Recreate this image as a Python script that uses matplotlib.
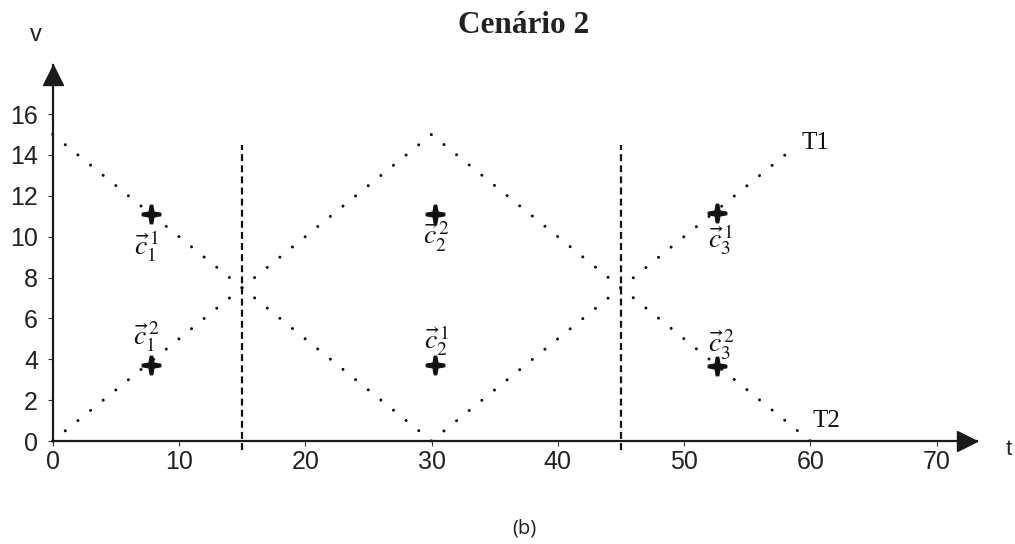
import matplotlib
matplotlib.use("Agg")
import matplotlib.pyplot as plt
from matplotlib.path import Path
from matplotlib.transforms import ScaledTranslation

plt.rcParams["mathtext.fontset"] = "stix"
plt.rcParams["lines.scale_dashes"] = False

# Trajectories: vertex times and values
t1_t = [0, 30, 58]
t1_v = [15, 0, 14]
t2_t = [0, 30, 60]
t2_v = [0, 15, 0]

# Phase boundaries
boundaries = [15, 45]
boundary_bottom = -0.45
boundary_top = 14.5

# Cluster centres
centre_t = [7.8, 7.8, 30.3, 30.3, 52.6, 52.6]
centre_v = [11.1, 3.7, 11.1, 3.7, 11.15, 3.65]
centre_labels = [r"$\vec{c}_1^{\,1}$", r"$\vec{c}_1^{\,2}$",
                 r"$\vec{c}_2^{\,2}$", r"$\vec{c}_2^{\,1}$",
                 r"$\vec{c}_3^{\,1}$", r"$\vec{c}_3^{\,2}$"]
label_t = [7.4, 7.4, 30.4, 30.4, 52.9, 52.9]
label_v = [9.55, 5.1, 10.0, 4.9, 9.85, 4.7]

x_ticks = [0, 10, 20, 30, 40, 50, 60, 70]
y_ticks = [0, 2, 4, 6, 8, 10, 12, 14, 16]

# Bold plus with tapered arms used for the centres
_a, _b = 0.14, 0.27
plus_marker = Path([(-_a, 1), (_a, 1), (_b, _b), (1, _a), (1, -_a), (_b, -_b),
                    (_a, -1), (-_a, -1), (-_b, -_b), (-1, -_a), (-1, _a),
                    (-_b, _b), (-_a, 1)], closed=True)

fig = plt.figure(figsize=(10.15, 5.44), dpi=100)
ax = fig.add_axes([0.0519, 0.1893, 0.9107, 0.6912])
ax.set_xlim(0, 73.2)
ax.set_ylim(0, 18.4)

for side in ("top", "right"):
    ax.spines[side].set_visible(False)
for side in ("left", "bottom"):
    ax.spines[side].set_linewidth(1.6)
    ax.spines[side].set_color("#1a1a1a")

ax.set_xticks(x_ticks)
ax.set_yticks(y_ticks)
ax.tick_params(axis="both", direction="out", length=3.5, width=0.8,
               colors="#333333", labelcolor="#222222", labelsize=18)
ax.tick_params(axis="x", pad=3)
ax.tick_params(axis="y", pad=7)
for lab in ax.get_xticklabels() + ax.get_yticklabels():
    lab.set_fontfamily("Liberation Sans")

# Arrow heads at the ends of both axes
ms = 15
ax.plot([1], [0], marker=">", ms=ms, color="#1a1a1a", clip_on=False,
        transform=ax.transAxes + ScaledTranslation(-ms / 2 / 72, 0, fig.dpi_scale_trans))
ax.plot([0], [1], marker="^", ms=ms, color="#1a1a1a", clip_on=False,
        transform=ax.transAxes + ScaledTranslation(0, -ms / 2 / 72, fig.dpi_scale_trans))

# Dotted trajectories
dot_style = dict(color="#111111", lw=2.2, dashes=(0.01, 11.68),
                 dash_capstyle="round", clip_on=False)
ax.plot(t1_t, t1_v, **dot_style)
ax.plot(t2_t, t2_v, **dot_style)

# Dashed phase boundaries
ax.vlines(boundaries, boundary_bottom, boundary_top, colors="#111111",
          linestyles=(0, (5, 3)), lw=1.6, clip_on=False)

# Cluster centres and their labels
ax.plot(centre_t, centre_v, linestyle="none", marker=plus_marker, ms=13.5,
        color="#111111", markeredgewidth=0.8)
for lbl, tx, vy in zip(centre_labels, label_t, label_v):
    ax.text(tx, vy, lbl, ha="center", va="center", fontsize=20, color="#111111")

# Trajectory names
ax.text(t1_t[-1] + 1.3, t1_v[-1] + 0.6, "T1", fontsize=18,
        family="Liberation Serif", ha="left", va="center", color="#111111")
ax.text(t2_t[-1] + 0.2, t2_v[-1] + 1.0, "T2", fontsize=18,
        family="Liberation Serif", ha="left", va="center", color="#111111")

# Axis names, title and caption
fig.text(0.0355, 0.936, "v", fontsize=17, family="Liberation Sans",
         ha="center", va="center", color="#222222")
fig.text(0.994, 0.173, "t", fontsize=16, family="Liberation Sans",
         ha="center", va="center", color="#222222")
fig.text(0.516, 0.954, "Cenário 2", fontsize=22.5, fontweight="bold",
         family="Liberation Serif", ha="center", va="center", color="#222222")
fig.text(0.517, 0.029, "(b)", fontsize=14.5, family="Open Sans",
         ha="center", va="center", color="#222222")

fig.savefig("out.png", dpi=100)
